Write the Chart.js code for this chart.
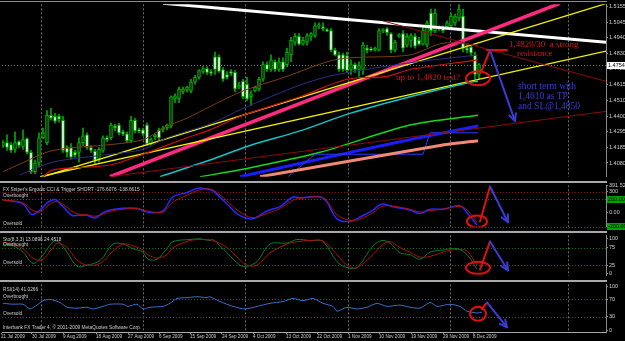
<!DOCTYPE html>
<html>
<head>
<meta charset="utf-8">
<script src="https://cdn.jsdelivr.net/npm/chart.js@4.4.1/dist/chart.umd.min.js"></script>
<style>
    html, body { margin: 0; padding: 0; background: #000; }
    #wrap { position: relative; width: 625px; height: 341px; background: #000; overflow: hidden; }
    #wrap canvas { position: absolute; left: 0; }
</style>
</head>
<body>
<div id="wrap">
    <canvas id="mainChart" width="625" height="181" style="top:0"></canvas>
    <canvas id="cciChart" width="625" height="50" style="top:181px"></canvas>
    <canvas id="stoChart" width="625" height="49" style="top:231px"></canvas>
    <canvas id="rsiChart" width="625" height="61" style="top:280px"></canvas>
</div>
<script>
// daily bars, [open, high, low, close]
const candles = [
    [1.4200,1.4233,1.4186,1.4220],[1.4220,1.4273,1.4166,1.4186],[1.4206,1.4220,1.4153,1.4166],[1.4173,1.4293,1.4153,1.4220],
    [1.4227,1.4233,1.4186,1.4200],[1.4193,1.4307,1.4173,1.4240],[1.4247,1.4253,1.4140,1.4153],[1.4153,1.4166,1.4006,1.4020],
    [1.4020,1.4100,1.4006,1.4080],[1.4080,1.4287,1.4053,1.4253],[1.4253,1.4320,1.4247,1.4287],[1.4220,1.4440,1.4206,1.4407],
    [1.4407,1.4454,1.4373,1.4387],[1.4400,1.4420,1.4353,1.4367],[1.4400,1.4413,1.4360,1.4380],[1.4373,1.4400,1.4153,1.4166],
    [1.4186,1.4200,1.4120,1.4153],[1.4186,1.4213,1.4106,1.4120],[1.4153,1.4166,1.4120,1.4133],[1.4153,1.4253,1.4086,1.4220],
    [1.4220,1.4320,1.4200,1.4267],[1.4273,1.4287,1.4173,1.4186],[1.4186,1.4200,1.4153,1.4166],[1.4160,1.4173,1.4073,1.4100],
    [1.4106,1.4186,1.4086,1.4173],[1.4166,1.4267,1.4153,1.4253],[1.4253,1.4267,1.4227,1.4240],[1.4253,1.4353,1.4240,1.4340],
    [1.4333,1.4347,1.4300,1.4320],[1.4340,1.4353,1.4273,1.4287],[1.4293,1.4307,1.4267,1.4280],[1.4280,1.4293,1.4220,1.4233],
    [1.4233,1.4400,1.4220,1.4373],[1.4373,1.4387,1.4287,1.4300],[1.4307,1.4320,1.4287,1.4300],[1.4307,1.4320,1.4267,1.4280],
    [1.4340,1.4353,1.4200,1.4213],[1.4213,1.4253,1.4200,1.4240],[1.4260,1.4280,1.4240,1.4273],[1.4307,1.4320,1.4240,1.4253],
    [1.4307,1.4333,1.4293,1.4320],[1.4320,1.4347,1.4307,1.4340],[1.4333,1.4540,1.4320,1.4534],[1.4520,1.4554,1.4494,1.4540],
    [1.4520,1.4600,1.4494,1.4587],[1.4567,1.4600,1.4554,1.4587],[1.4580,1.4607,1.4567,1.4600],[1.4574,1.4654,1.4560,1.4634],
    [1.4634,1.4681,1.4620,1.4667],[1.4667,1.4721,1.4654,1.4714],[1.4707,1.4741,1.4694,1.4727],[1.4727,1.4741,1.4687,1.4701],
    [1.4707,1.4721,1.4681,1.4694],[1.4807,1.4841,1.4687,1.4721],[1.4807,1.4821,1.4701,1.4707],[1.4721,1.4734,1.4640,1.4654],
    [1.4687,1.4707,1.4654,1.4667],[1.4707,1.4721,1.4681,1.4694],[1.4701,1.4714,1.4567,1.4587],[1.4600,1.4634,1.4587,1.4614],
    [1.4640,1.4654,1.4520,1.4534],[1.4620,1.4667,1.4507,1.4520],[1.4534,1.4574,1.4474,1.4554],[1.4574,1.4607,1.4567,1.4600],
    [1.4587,1.4667,1.4574,1.4654],[1.4654,1.4774,1.4640,1.4754],[1.4754,1.4774,1.4707,1.4721],[1.4721,1.4821,1.4707,1.4787],
    [1.4774,1.4787,1.4707,1.4721],[1.4721,1.4801,1.4707,1.4774],[1.4774,1.4801,1.4707,1.4721],[1.4754,1.4868,1.4741,1.4841],
    [1.4821,1.4941,1.4774,1.4921],[1.4908,1.4968,1.4888,1.4948],[1.4948,1.4968,1.4888,1.4894],[1.4894,1.4941,1.4888,1.4921],
    [1.4908,1.4968,1.4888,1.4954],[1.4948,1.4974,1.4921,1.4968],[1.4954,1.5041,1.4941,1.5021],[1.5021,1.5041,1.5001,1.5028],
    [1.5014,1.5041,1.4988,1.5001],[1.4994,1.5001,1.4981,1.4988],[1.4988,1.5001,1.4841,1.4854],[1.4854,1.4868,1.4814,1.4821],
    [1.4821,1.4841,1.4707,1.4721],[1.4821,1.4834,1.4707,1.4721],[1.4814,1.4841,1.4701,1.4714],[1.4721,1.4787,1.4687,1.4754],
    [1.4754,1.4767,1.4701,1.4721],[1.4721,1.4774,1.4674,1.4747],[1.4721,1.4908,1.4687,1.4888],[1.4868,1.4888,1.4834,1.4854],
    [1.4861,1.4874,1.4847,1.4854],[1.4854,1.4874,1.4847,1.4868],[1.4854,1.5001,1.4847,1.4988],[1.4988,1.5001,1.4974,1.4994],
    [1.5001,1.5008,1.4954,1.4974],[1.4968,1.4974,1.4834,1.4854],[1.4854,1.4921,1.4841,1.4908],[1.4948,1.4968,1.4941,1.4961],
    [1.4968,1.4988,1.4841,1.4868],[1.4888,1.4968,1.4874,1.4948],[1.4921,1.4968,1.4874,1.4954],[1.4948,1.4968,1.4868,1.4881],
    [1.4921,1.4941,1.4888,1.4894],[1.4894,1.5008,1.4888,1.4988],[1.4888,1.5054,1.4874,1.5041],[1.5108,1.5135,1.4954,1.4988],
    [1.4988,1.5135,1.4974,1.5108],[1.5001,1.5021,1.4988,1.5014],[1.5008,1.5021,1.4974,1.4988],[1.5014,1.5054,1.5008,1.5041],
    [1.5021,1.5108,1.5008,1.5088],[1.5041,1.5101,1.5021,1.5088],[1.5074,1.5168,1.5054,1.5135],[1.5088,1.5135,1.4841,1.4868],
    [1.4868,1.4888,1.4834,1.4854],[1.4874,1.4888,1.4814,1.4834],[1.4821,1.4841,1.4654,1.4687],[1.4687,1.4761,1.4654,1.4754]
];

// price axis
const priceTicks = [1.5155, 1.5045, 1.4940, 1.4830, 1.4725, 1.4615, 1.4510, 1.4400, 1.4295, 1.4185, 1.4080];
const gridBars = [9.5, 35, 60.5, 86.25, 111.75, 141.25];
const dateBars = [-0.5, 7.25, 15, 23.25, 31.25, 39, 46.75, 54.75, 62.5, 70.75, 78.5, 86.25, 94, 102, 110, 117.5];
const dateLabels = ['21 Jul 2009', '30 Jul 2009', '9 Aug 2009', '18 Aug 2009', '27 Aug 2009', '6 Sep 2009', '15 Sep 2009',
    '24 Sep 2009', '4 Oct 2009', '13 Oct 2009', '22 Oct 2009', '1 Nov 2009', '10 Nov 2009', '19 Nov 2009', '29 Nov 2009', '8 Dec 2009'];

// moving averages (bar index, price)
const brownBars = [0, 4.25, 12.5, 26.75, 35, 41, 46, 51.75, 60, 71, 81, 86.75, 101.75, 110, 118.75];
const brownVals = [1.4020, 1.4073, 1.4166, 1.4206, 1.4240, 1.4333, 1.4387, 1.4467, 1.4574, 1.4674, 1.4774, 1.4801, 1.4821, 1.4901, 1.4888];
const navyBars = [4.25, 12.5, 26.75, 35, 41, 51.75, 60, 74.25, 82.5, 101.75, 118.75];
const navyVals = [1.3999, 1.4086, 1.4140, 1.4173, 1.4253, 1.4347, 1.4454, 1.4614, 1.4681, 1.4767, 1.4821];
const redMaBars = [10, 12.5, 26.75, 35, 46, 51.75, 60, 74.25, 86, 96, 101.75, 118.75];
const redMaVals = [1.3986, 1.4033, 1.4066, 1.4140, 1.4253, 1.4307, 1.4407, 1.4534, 1.4654, 1.4674, 1.4721, 1.4787];
const cyanBars = [39.25, 51.75, 61.75, 74.25, 86.75, 101.75, 116.75, 118.75];
const cyanVals = [1.3986, 1.4100, 1.4200, 1.4300, 1.4420, 1.4534, 1.4634, 1.4640];
const greenBars = [49.25, 59.25, 79.25, 101.75, 118.75];
const greenVals = [1.3986, 1.4033, 1.4153, 1.4340, 1.4407];
const blueBars = [59.25, 86.75, 101.75, 118.75];
const blueVals = [1.3986, 1.4153, 1.4240, 1.4333];
const stepBars = [71.25, 78, 105, 106.75, 118.75];
const stepVals = [1.3986, 1.4140, 1.4140, 1.4287, 1.4287];
const salmonBars = [64.25, 109.25, 118.75];
const salmonVals = [1.3986, 1.4200, 1.4233];

// trend lines
const whiteBars = [40, 150.75],      whiteVals = [1.5175, 1.4908];
const pinkBars = [26.75, 139.25],    pinkVals = [1.3986, 1.5175];
const yellowABars = [10, 151],       yellowAVals = [1.3986, 1.5175];
const yellowBBars = [9.25, 150.75],  yellowBVals = [1.3986, 1.4847];
const darkUpBars = [26.75, 150.75],  darkUpVals = [1.3986, 1.4434];
const darkDownBars = [95, 150.75],   darkDownVals = [1.5054, 1.4640];

// hand-drawn marks on the price window
const markRedBars = [119.5, 121.75],   markRedVals = [1.4701, 1.4854];
const resistBars = [121, 126],         resistVals = [1.4854, 1.4854];
const markBlueBars = [121.75, 128],    markBlueVals = [1.4854, 1.4367];
const circleBar = 118.75, circlePrice = 1.4661;
const noteTexts = ['1,4820/30  a strong', 'resistance', 'up to 1,4820 test?', 'short term with', '1,4610 as TP', 'and SL@1,4850'];
const noteBars = [126.5, 128.5, 98.25, 128.75, 128.75, 128.75];
const notePrices = [1.4894, 1.4827, 1.4667, 1.4607, 1.4534, 1.4467];

// Ergodic CCI & trigger
const cciBars = [0, 2.5, 5, 7.25, 9.25, 11.25, 13, 14.75, 17.25, 18.75, 21, 23, 25, 26.75, 30, 33.5, 35, 37.25, 40, 42.5, 46,
    48.75, 51, 52.5, 56, 58.75, 62.25, 66, 69.25, 72.5, 74.25, 80, 83.5, 86.75, 89.25, 92.5, 94.75, 97.25, 101.75, 104.25,
    106.75, 110, 114.25, 116, 118.5];
const cciMain = [187, 162, 125, -25, 38, 150, 188, 100, -38, -38, -38, -75, 0, 38, 62, 62, 25, 0, 25, 225, 288,
    350, 338, 312, 125, -25, -88, 25, 88, 225, 212, 212, -88, -125, -62, 38, 125, 88, 38, -12,
    50, 50, 100, 0, -177];
const cciTrigger = [175, 170, 140, 40, 10, 100, 160, 130, 20, -20, -30, -50, -20, 20, 50, 60, 40, 10, 10, 150, 250,
    320, 340, 325, 170, 30, -70, -10, 60, 180, 205, 210, -30, -110, -90, 0, 90, 95, 50, 10,
    30, 50, 90, 40, -139];
const cciTicks = [391.527, 300, 0];
const cciTickLabels = ['391.5270', '300', '0.00'];

// Stochastic 8,3,3
const stoBars = [0, 2.5, 5, 7.5, 9.75, 12.5, 13.75, 16, 18.5, 21, 24.25, 27.5, 30, 32.5, 35, 36.25, 38.5, 41, 42.5, 46.75,
    49.25, 51.75, 52.5, 56, 59.25, 61, 63.5, 66.75, 71, 73.5, 76.75, 80, 83.5, 86, 88.5, 92.5, 94.75, 96.75, 99.25, 101.75,
    104.25, 106.75, 110, 113.5, 116, 118.5];
const stoMain = [85, 80, 62, 30, 50, 92, 92, 62, 22, 25, 38, 85, 85, 72, 62, 42, 42, 72, 92, 98,
    100, 95, 98, 60, 25, 22, 35, 85, 88, 98, 95, 92, 35, 18, 18, 80, 95, 88, 60, 55,
    42, 62, 68, 72, 55, 13];
const stoSignal = [90, 85, 72, 45, 40, 75, 88, 75, 40, 25, 30, 65, 85, 80, 68, 55, 45, 55, 75, 95,
    98, 97, 96, 75, 40, 25, 25, 60, 85, 92, 95, 94, 55, 25, 18, 55, 82, 92, 75, 62,
    48, 50, 62, 70, 65, 24];

// RSI 14
const rsiBars = [0, 2.5, 5, 6.75, 8.5, 10, 11.75, 14.25, 16, 18.5, 21, 22.5, 25, 26.75, 30, 31.25, 33.5, 35, 36.75, 40,
    41.75, 43.5, 46, 48.5, 51, 51.75, 54.25, 57.5, 60.5, 63.5, 66.75, 70, 72.5, 75, 77.5, 80, 82.5, 83.5, 86, 88.5,
    91, 93.5, 96, 99.25, 101.75, 104.25, 106.75, 108.5, 111.75, 114.25, 116, 118.5, 119.75];
const rsiVals = [61, 59, 59, 48, 57, 67, 70, 63, 52, 50, 52, 48, 54, 59, 59, 54, 59, 48, 52, 54,
    61, 72, 74, 76, 74, 76, 65, 54, 48, 54, 61, 65, 72, 67, 72, 61, 54, 43, 52, 48,
    52, 61, 54, 57, 52, 50, 63, 54, 59, 54, 43, 39, 41];

// hand-drawn marks on the oscillators
const cciRedBars = [119.25, 121.75],  cciRedVals = [-125, 375];
const cciBlueBars = [121.75, 126.25], cciBlueVals = [375, -137];
const stoRedBars = [119.25, 121.75],  stoRedVals = [12.5, 92.5];
const stoBlueBars = [121.75, 126.25], stoBlueVals = [92.5, 10];
const rsiRedBars = [119.75, 121],     rsiRedVals = [48, 63];
const rsiBlueBars = [121, 126],       rsiBlueVals = [63, 6.5];

const X_MIN = -0.25, X_MAX = 150.75;
const FONT = 'Liberation Sans';
const LABEL_GREY = '#cfcfcf';

function series(bars, vals) {
    return bars.map((b, i) => ({ x: b, y: vals[i] }));
}

function lineSet(bars, vals, color, width, tension) {
    return {
        type: 'line',
        data: series(bars, vals),
        borderColor: color,
        borderWidth: width,
        pointRadius: 0,
        fill: false,
        tension: tension || 0,
        order: 1
    };
}

// per window decorations: level lines, captions, hand drawings
const paneDecor = {
    mainChart: {
        levels: [{ value: candles[candles.length - 1][3], color: '#7a7a7a' }],
        captions: [],
        ellipses: [{ bar: circleBar, value: circlePrice, rx: 12, ry: 7 }],
        paths: [
            { bars: markRedBars, vals: markRedVals, color: '#e01010', head: false },
            { bars: resistBars, vals: resistVals, color: '#e01010', head: false },
            { bars: markBlueBars, vals: markBlueVals, color: '#3b3bd6', head: true }
        ],
        notes: noteTexts.map((t, i) => ({ text: t, bar: noteBars[i], value: notePrices[i], color: i < 3 ? '#d01818' : '#3c3cd0' })),
        boxes: [{ value: candles[candles.length - 1][3], text: candles[candles.length - 1][3].toFixed(4), bg: '#ffffff', fg: '#000' }],
        topBorder: true
    },
    cciChart: {
        levels: [{ value: 300, color: '#a00000' }, { value: 200, color: '#007a00' }, { value: -200, color: '#007a00' }],
        captions: [
            { text: "FX Sniper's Ergodic CCI & Trigger SHORT -176.6076 -138.6615", top: 4 },
            { text: 'Overbought', level: 200 },
            { text: 'Oversold', level: -200 }
        ],
        ellipses: [{ bar: 118.5, value: -125, rx: 10, ry: 6 }],
        paths: [
            { bars: cciRedBars, vals: cciRedVals, color: '#e01010', head: false },
            { bars: cciBlueBars, vals: cciBlueVals, color: '#3b3bd6', head: true }
        ],
        notes: [],
        boxes: [
            { value: 200, text: '200.0000', bg: '#00a000', fg: '#000' },
            { value: -188, text: '-200.000', bg: '#00a000', fg: '#000' }
        ],
        separator: true
    },
    stoChart: {
        levels: [{ value: 75, color: '#007a00' }, { value: 25, color: '#007a00' }],
        captions: [
            { text: 'Sto(8,3,3) 13.0896 24.4518', top: 4 },
            { text: 'Overbought', level: 75 },
            { text: 'Oversold', level: 25 }
        ],
        ellipses: [{ bar: 118.75, value: 17.5, rx: 12, ry: 6 }],
        paths: [
            { bars: stoRedBars, vals: stoRedVals, color: '#e01010', head: false },
            { bars: stoBlueBars, vals: stoBlueVals, color: '#3b3bd6', head: true }
        ],
        notes: [],
        boxes: [],
        separator: true
    },
    rsiChart: {
        levels: [{ value: 70, color: '#007a00' }, { value: 30, color: '#007a00' }],
        captions: [
            { text: 'RSI(14) 41.0266', top: 5 },
            { text: 'Overbought', level: 70 },
            { text: 'Oversold', level: 30 },
            { text: 'Interbank FX Trader 4, \u00a9 2001-2009 MetaQuotes Software Corp.', bottom: 4 }
        ],
        ellipses: [{ bar: 118.75, value: 37, rx: 8, ry: 7 }],
        paths: [
            { bars: rsiRedBars, vals: rsiRedVals, color: '#e01010', head: false },
            { bars: rsiBlueBars, vals: rsiBlueVals, color: '#3b3bd6', head: true }
        ],
        notes: [],
        boxes: [],
        separator: true
    }
};

const mtDecor = {
    id: 'mtDecor',
    beforeDatasetsDraw(chart) {
        const decor = paneDecor[chart.canvas.id];
        const { ctx, chartArea: a, scales: { x, y } } = chart;
        ctx.save();
        ctx.lineWidth = 1;
        ctx.setLineDash([2, 2]);
        ctx.strokeStyle = '#6c6c6c';
        gridBars.forEach(b => {
            const px = Math.round(x.getPixelForValue(b)) + 0.5;
            ctx.beginPath();
            ctx.moveTo(px, a.top);
            ctx.lineTo(px, a.bottom);
            ctx.stroke();
        });
        ctx.setLineDash([1, 2]);
        decor.levels.forEach(l => {
            const py = Math.round(y.getPixelForValue(l.value)) + 0.5;
            ctx.strokeStyle = l.color;
            ctx.beginPath();
            ctx.moveTo(a.left, py);
            ctx.lineTo(a.right, py);
            ctx.stroke();
        });
        ctx.restore();
    },
    afterDatasetsDraw(chart) {
        const decor = paneDecor[chart.canvas.id];
        const { ctx, chartArea: a, scales: { x, y } } = chart;
        ctx.save();
        ctx.beginPath();
        ctx.rect(a.left, a.top, a.right - a.left, a.bottom - a.top);
        ctx.clip();
        ctx.lineWidth = 2;
        ctx.lineCap = 'round';
        ctx.lineJoin = 'round';

        decor.ellipses.forEach(e => {
            ctx.strokeStyle = '#e01010';
            ctx.beginPath();
            ctx.ellipse(x.getPixelForValue(e.bar), y.getPixelForValue(e.value), e.rx, e.ry, 0, 0, Math.PI * 2);
            ctx.stroke();
        });

        decor.paths.forEach(p => {
            const pts = p.bars.map((b, i) => [x.getPixelForValue(b), y.getPixelForValue(p.vals[i])]);
            ctx.strokeStyle = p.color;
            ctx.beginPath();
            pts.forEach((pt, i) => i ? ctx.lineTo(pt[0], pt[1]) : ctx.moveTo(pt[0], pt[1]));
            ctx.stroke();
            if (p.head) {
                const [x0, y0] = pts[pts.length - 2];
                const [x1, y1] = pts[pts.length - 1];
                const ang = Math.atan2(y1 - y0, x1 - x0);
                ctx.beginPath();
                ctx.moveTo(x1 - 8 * Math.cos(ang - 0.45), y1 - 8 * Math.sin(ang - 0.45));
                ctx.lineTo(x1, y1);
                ctx.lineTo(x1 - 8 * Math.cos(ang + 0.45), y1 - 8 * Math.sin(ang + 0.45));
                ctx.stroke();
            }
        });

        ctx.textAlign = 'left';
        ctx.textBaseline = 'middle';
        decor.notes.forEach(n => {
            ctx.fillStyle = n.color;
            ctx.font = (n.color === '#3c3cd0' ? '9.5px' : '9px') + ' "Liberation Serif"';
            ctx.fillText(n.text, x.getPixelForValue(n.bar), y.getPixelForValue(n.value));
        });
        ctx.restore();
    },
    afterDraw(chart) {
        const decor = paneDecor[chart.canvas.id];
        const { ctx, chartArea: a, scales: { y } } = chart;
        ctx.save();
        if (decor.separator) {
            ctx.fillStyle = '#a9a9a9';
            ctx.fillRect(0, 0, a.right + 1, 2);
        }
        if (decor.topBorder) {
            ctx.fillStyle = '#8c8c8c';
            ctx.fillRect(0, 1, a.right + 1, 1);
        }

        ctx.font = '4.8px "' + FONT + '"';
        ctx.fillStyle = LABEL_GREY;
        ctx.textAlign = 'left';
        decor.captions.forEach(c => {
            if (c.level !== undefined) {
                ctx.textBaseline = 'bottom';
                ctx.fillText(c.text, a.left + 1, y.getPixelForValue(c.level) - 0.5);
            } else if (c.top !== undefined) {
                ctx.textBaseline = 'middle';
                ctx.fillText(c.text, a.left + 1, a.top + c.top);
            } else {
                ctx.textBaseline = 'middle';
                ctx.fillText(c.text, a.left + 1, a.bottom - c.bottom);
            }
        });

        ctx.font = '5.5px "' + FONT + '"';
        ctx.textBaseline = 'middle';
        decor.boxes.forEach(b => {
            const py = Math.round(y.getPixelForValue(b.value));
            ctx.fillStyle = b.bg;
            ctx.fillRect(a.right + 1, py - 3, chart.width - a.right, 7);
            ctx.fillStyle = b.fg;
            ctx.fillText(b.text, a.right + 2, py + 0.5);
        });
        ctx.restore();
    }
};

function yAxis(min, max, ticks, labels, width) {
    return {
        type: 'linear',
        position: 'right',
        min: min,
        max: max,
        afterBuildTicks: s => { s.ticks = ticks.map(v => ({ value: v })); },
        afterFit: s => { s.width = width; },
        grid: { display: true, drawOnChartArea: false, drawTicks: true, tickLength: 2, color: '#8c8c8c' },
        border: { display: true, color: '#8c8c8c', width: 1 },
        ticks: {
            autoSkip: false,
            padding: 1,
            color: LABEL_GREY,
            font: { family: FONT, size: 5.5 },
            callback: (v, i) => labels[i]
        }
    };
}

function xAxis(showDates) {
    if (!showDates) {
        return { type: 'linear', min: X_MIN, max: X_MAX, offset: false, display: false };
    }
    return {
        type: 'linear',
        min: X_MIN,
        max: X_MAX,
        offset: false,
        afterBuildTicks: s => { s.ticks = dateBars.map(v => ({ value: v })); },
        afterFit: s => { s.height = 9; },
        grid: { display: true, drawOnChartArea: false, drawTicks: true, tickLength: 2, color: '#8c8c8c' },
        border: { display: true, color: '#a9a9a9', width: 1 },
        ticks: {
            autoSkip: false,
            maxRotation: 0,
            align: 'start',
            padding: 0,
            color: LABEL_GREY,
            font: { family: FONT, size: 4.6 },
            callback: (v, i) => dateLabels[i]
        }
    };
}

function baseOptions(yScale, showDates, padding) {
    return {
        responsive: false,
        animation: false,
        events: [],
        layout: { padding: padding },
        plugins: { legend: { display: false }, tooltip: { enabled: false } },
        scales: { x: xAxis(showDates), y: yScale }
    };
}

function renderMainChart() {
    const ctx = document.getElementById('mainChart').getContext('2d');
    const bull = candles.map(c => c[3] >= c[0]);
    new Chart(ctx, {
        type: 'line',
        data: {
            datasets: [
                lineSet(darkUpBars, darkUpVals, '#8e0b0b', 1),
                lineSet(darkDownBars, darkDownVals, '#8e0b0b', 1),
                lineSet(brownBars, brownVals, '#7a3d17', 1, 0.3),
                lineSet(navyBars, navyVals, '#2e2e86', 1, 0.3),
                lineSet(redMaBars, redMaVals, '#d01010', 1.2, 0.3),
                lineSet(salmonBars, salmonVals, '#f08a74', 3, 0.2),
                lineSet(stepBars, stepVals, '#2a3cff', 1, 0),
                lineSet(blueBars, blueVals, '#1c1cff', 3, 0.2),
                lineSet(greenBars, greenVals, '#18d818', 1.5, 0.3),
                lineSet(cyanBars, cyanVals, '#12c4c8', 1.5, 0.3),
                lineSet(yellowBBars, yellowBVals, '#f2f200', 1.3),
                lineSet(yellowABars, yellowAVals, '#f2f200', 1.3),
                lineSet(pinkBars, pinkVals, '#ff2a80', 3.5),
                lineSet(whiteBars, whiteVals, '#ffffff', 3),
                {
                    type: 'bar',
                    data: candles.map((c, i) => ({ x: i, y: [c[2], c[1]] })),
                    backgroundColor: '#00a800',
                    barThickness: 1,
                    grouped: false,
                    order: 3
                },
                {
                    type: 'bar',
                    data: candles.map((c, i) => ({ x: i, y: [c[0], c[3]] })),
                    backgroundColor: bull.map(b => b ? '#0b3d0b' : '#f4f4f4'),
                    borderColor: '#00b400',
                    borderWidth: 1,
                    borderSkipped: false,
                    barThickness: 3,
                    minBarLength: 1,
                    grouped: false,
                    order: 2
                }
            ]
        },
        options: baseOptions(
            yAxis(1.3986, 1.5168, priceTicks, priceTicks.map(v => v.toFixed(4)), 19),
            false,
            { left: 2, right: 0, top: 3, bottom: 1 }
        ),
        plugins: [mtDecor]
    });
}

function renderOscillator(id, yScale, lines, padding, showDates) {
    const ctx = document.getElementById(id)?.getContext('2d');
    if (!ctx) {
        console.error("Could not find canvas with ID '" + id + "'");
        return;
    }
    new Chart(ctx, {
        type: 'line',
        data: { datasets: lines },
        options: baseOptions(yScale, showDates, padding),
        plugins: [mtDecor]
    });
}

renderMainChart();

renderOscillator('cciChart',
    yAxis(-200, 391.527, cciTicks, cciTickLabels, 19),
    [lineSet(cciBars, cciTrigger, '#b01010', 1, 0.35), lineSet(cciBars, cciMain, '#2828ff', 1.5, 0.35)],
    { left: 2, right: 0, top: 3, bottom: 0 }, false);

renderOscillator('stoChart',
    yAxis(-5, 110, [100, 75, 25, 0], ['100', '75', '25', '0'], 19),
    [lineSet(stoBars, stoSignal, '#b01010', 1, 0.35), lineSet(stoBars, stoMain, '#0c7a2c', 1, 0.35)],
    { left: 2, right: 0, top: 2, bottom: 1 }, false);

renderOscillator('rsiChart',
    yAxis(-4.3, 104.3, [100, 70, 30, 0], ['100', '70', '30', '0'], 19),
    [lineSet(rsiBars, rsiVals, '#3a6ec8', 1, 0.2)],
    { left: 2, right: 0, top: 2, bottom: 0 }, true);
</script>
</body>
</html>
